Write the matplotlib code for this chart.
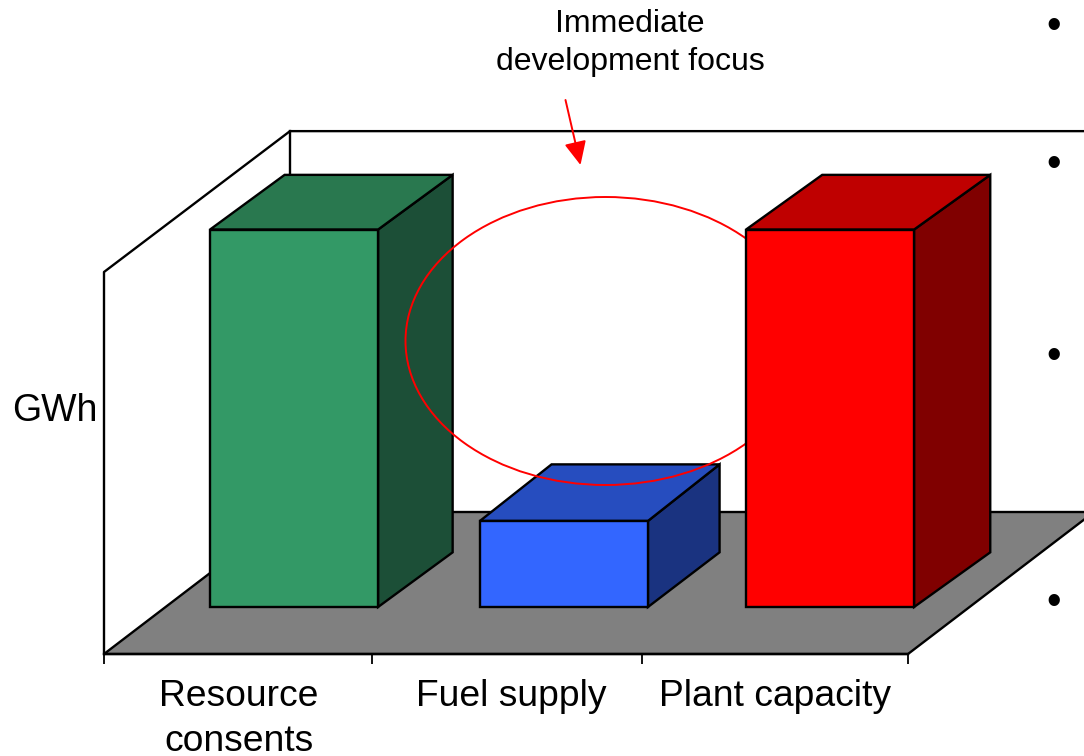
import matplotlib
matplotlib.use("Agg")
import matplotlib.pyplot as plt
from matplotlib.patches import Polygon, Ellipse
from matplotlib.transforms import Affine2D

categories = ["Resource\nconsents", "Fuel supply", "Plant capacity"]
values = [100, 22.8, 100]
front_colors = ["#339966", "#3366FF", "#FF0000"]
top_colors = ["#29784F", "#264DBF", "#BF0000"]
side_colors = ["#1C4F37", "#1A3380", "#800000"]
bullet_rows = [24, 162, 354, 600]

W, H = 1084, 756
plt.rcParams["font.family"] = ["Liberation Sans", "DejaVu Sans"]
fig = plt.figure(figsize=(W / 100, H / 100), dpi=100, facecolor="white")
ax = fig.add_axes([104 / W, (H - 654) / H, 804 / W, 382 / H], facecolor="none")
VMAX = 101.2
ax.set_xlim(0, 3)
ax.set_ylim(0, VMAX)
pix = Affine2D().scale(1 / W, -1 / H).translate(0, 1) + fig.transFigure

DX = 186 / 268            # category units across the full floor depth
DY = 142 / 382 * VMAX     # value units across the full floor depth
LW = 1.7


def proj(x, v, d):
    return (x + d * DX, v + d * DY)


def poly(points, **kw):
    p = Polygon([proj(*q) for q in points], closed=True, clip_on=False,
                edgecolor="black", linewidth=LW, joinstyle="miter", **kw)
    ax.add_patch(p)


# walls and floor
vback = VMAX - 0.3
ax.plot(*zip(proj(0, 0, 0), proj(0, VMAX, 0), proj(0, vback, 1), proj(3, vback, 1)),
        color="black", lw=LW, clip_on=False, zorder=1)
ax.plot(*zip(proj(0, vback, 1), proj(0, 0, 1)), color="black", lw=LW, clip_on=False, zorder=1)
poly([(0, 0, 0), (3, 0, 0), (3, 0, 1), (0, 0, 1)], facecolor="#808080", zorder=2)

# bars
bar_w, d0, d1 = 0.627, 0.331, 0.716
bar_off = [0.166, 0.173, 0.166]
back_shift = [0.011, 0.0, 0.017]
top_lift = [0.0, 0.5, 0.0]
bar_z = [3, 3, 6]
for i, v in enumerate(values):
    x0, x1 = i + bar_off[i], i + bar_off[i] + bar_w
    bx0, bx1 = x0 + back_shift[i], x1 + back_shift[i]
    vb = v + top_lift[i]
    z = bar_z[i]
    poly([(x1, 0, d0), (bx1, 0, d1), (bx1, vb, d1), (x1, v, d0)], facecolor=side_colors[i], zorder=z)
    poly([(x0, v, d0), (x1, v, d0), (bx1, vb, d1), (bx0, vb, d1)], facecolor=top_colors[i], zorder=z)
    poly([(x0, 0, d0), (x1, 0, d0), (x1, v, d0), (x0, v, d0)], facecolor=front_colors[i], zorder=z)

# axis
for s in ["top", "left", "right"]:
    ax.spines[s].set_visible(False)
ax.spines["bottom"].set_linewidth(LW)
ax.spines["bottom"].set_zorder(4)
ax.set_yticks([])
ax.set_xticks([0, 1, 2.007, 3])
ax.set_xticklabels([])
ax.tick_params(axis="x", which="major", length=7, width=1.3)
ax.set_xticks([0.503, 1.52, 2.504], minor=True)
ax.set_xticklabels(categories, minor=True, fontsize=26.8, linespacing=1.36)
ax.tick_params(axis="x", which="minor", length=0, pad=18)
ax.set_ylabel("GWh", rotation=0, fontsize=27, ha="right", va="center")
ax.yaxis.set_label_coords(-7 / 804, 0.636)

# overlay annotations
ring = Ellipse((605.5, 341), 400, 288, transform=pix, fill=False,
               edgecolor="#FF0000", linewidth=1.4, zorder=5, clip_on=False)
ax.add_patch(ring)
ax.annotate("", xy=(580.5, 165), xytext=(565.5, 100), xycoords=pix, textcoords=pix,
            arrowprops=dict(arrowstyle="-|>,head_length=0.9,head_width=0.42", color="#FF0000",
                            lw=1.4, shrinkA=0, shrinkB=0, mutation_scale=16), zorder=7)
fig.text(630, 43, "Immediate\ndevelopment focus", transform=pix, ha="center", va="center",
         fontsize=23, linespacing=1.31)
for row in bullet_rows:
    fig.text(1054, row + 3, "\u2022", transform=pix, ha="center", va="center", fontsize=30)

fig.savefig("out.png", dpi=100)
